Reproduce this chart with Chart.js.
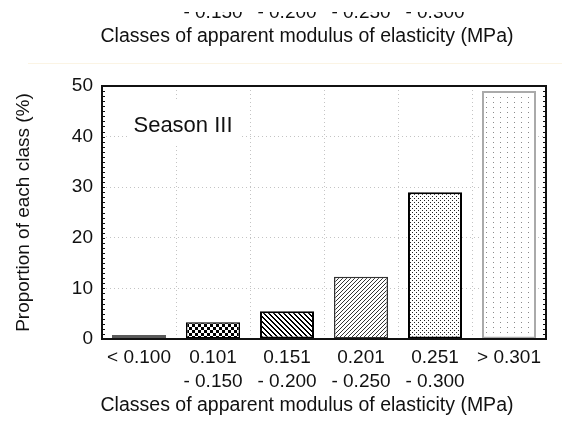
<!DOCTYPE html>
<html>
<head>
<meta charset="utf-8">
<script src="https://cdn.jsdelivr.net/npm/chart.js@4.4.0/dist/chart.umd.min.js"></script>
<style>
  html, body { margin: 0; padding: 0; background: #fff; }
  #wrap { width: 562px; height: 425px; position: relative; }
</style>
</head>
<body>
<div id="wrap"><canvas id="chart" width="562" height="425"></canvas></div>
<script>
// chart data
const classLabels = [
  ["< 0.100"],
  ["0.101", "- 0.150"],
  ["0.151", "- 0.200"],
  ["0.201", "- 0.250"],
  ["0.251", "- 0.300"],
  ["> 0.301"],
];
const proportions = [0.8, 3.3, 5.5, 12.3, 29.0, 49.0];
const yMin = 0;
const yMax = 50;
const yStep = 10;
const xTitle = "Classes of apparent modulus of elasticity (MPa)";
const yTitle = "Proportion of each class (%)";
const seasonLabel = "Season III";

const FONT = "Arial, 'Liberation Sans', sans-serif";

// pixel patterns for the bar fills
function makePattern(w, h, fn) {
  const c = document.createElement("canvas");
  c.width = w;
  c.height = h;
  const g = c.getContext("2d");
  g.fillStyle = "#fff";
  g.fillRect(0, 0, w, h);
  for (let y = 0; y < h; y++) {
    for (let x = 0; x < w; x++) {
      const col = fn(x, y);
      if (col) {
        g.fillStyle = col;
        g.fillRect(x, y, 1, 1);
      }
    }
  }
  return g.createPattern(c, "repeat");
}

const checker = makePattern(6, 6, (x, y) => ((Math.floor(x / 3) + Math.floor(y / 3)) % 2 === 0 ? "#000" : null));
const backSlash = makePattern(5, 5, (x, y) => ((((x - y) % 5) + 5) % 5 < 2 ? "#000" : null));
const fwdSlash = makePattern(4, 4, (x, y) => ((x + y) % 4 === 0 ? "#333" : null));
const denseDots = makePattern(4, 4, (x, y) => ((x === 0 && y === 0) || (x === 2 && y === 2) ? "#222" : null));
const sparseDots = makePattern(7, 5, (x, y) => (x === 3 && y === 2 ? "#8a8a8a" : null));

const barFills = ["#5a5a5a", checker, backSlash, fwdSlash, denseDots, sparseDots];
const barBorders = ["#5a5a5a", "#000", "#000", "#333", "#000", "#aaa"];
const barBorderWidths = [0, 1.5, 2, 1.5, 2, 2];

// extra drawing: frame, minor ticks, season label, bottom title and the clipped strip of the panel above
const extras = {
  id: "extras",
  afterDraw(chart) {
    const ctx = chart.ctx;
    const a = chart.chartArea;
    const xs = chart.scales.x;
    const ys = chart.scales.y;

    ctx.save();
    // frame around plot
    ctx.strokeStyle = "#111";
    ctx.lineWidth = 2;
    ctx.strokeRect(a.left, a.top, a.right - a.left, a.bottom - a.top);

    // small inward ticks on left and right edges
    ctx.lineWidth = 1;
    ctx.beginPath();
    for (let v = yMin; v <= yMax; v++) {
      const py = Math.round(ys.getPixelForValue(v)) + 0.5;
      ctx.moveTo(a.left, py);
      ctx.lineTo(a.left + 3, py);
      ctx.moveTo(a.right, py);
      ctx.lineTo(a.right - 3, py);
    }
    ctx.stroke();

    // season label on white box
    ctx.fillStyle = "#fff";
    ctx.fillRect(a.left + 25, a.top + 14, 113, 45);
    ctx.fillStyle = "#111";
    ctx.font = "22px " + FONT;
    ctx.textAlign = "center";
    ctx.textBaseline = "middle";
    ctx.fillText(seasonLabel, a.left + 81, a.top + 40);

    // x axis title
    ctx.font = "19.5px " + FONT;
    ctx.fillText(xTitle, 307, 406);

    // strip of previous panel at the very top
    ctx.beginPath();
    ctx.rect(0, 12, chart.width, 50);
    ctx.clip();
    ctx.font = "19px " + FONT;
    for (let i = 0; i < classLabels.length; i++) {
      if (classLabels[i].length > 1) {
        ctx.fillText(classLabels[i][1], xs.getPixelForValue(i), 13);
      }
    }
    ctx.font = "19.5px " + FONT;
    ctx.fillText(xTitle, 307, 37);
    ctx.restore();

    ctx.save();
    ctx.strokeStyle = "#fbf4e4";
    ctx.lineWidth = 1;
    ctx.beginPath();
    ctx.moveTo(28, 63.5);
    ctx.lineTo(chart.width, 63.5);
    ctx.stroke();
    ctx.restore();
  },
};

const ctx = document.getElementById("chart").getContext("2d");
new Chart(ctx, {
  type: "bar",
  data: {
    labels: classLabels,
    datasets: [
      {
        data: proportions,
        backgroundColor: barFills,
        borderColor: barBorders,
        borderWidth: barBorderWidths,
        borderSkipped: false,
        barPercentage: 0.73,
        categoryPercentage: 1.0,
      },
    ],
  },
  options: {
    responsive: false,
    animation: false,
    layout: { padding: { top: 86, right: 16, left: 0, bottom: 0 } },
    plugins: {
      legend: { display: false },
      tooltip: { enabled: false },
    },
    scales: {
      x: {
        grid: { display: true, color: "#c4c4c4", lineWidth: 1, drawTicks: false, offset: true },
        border: { display: false, dash: [1, 3] },
        ticks: {
          color: "#111",
          padding: 7,
          maxRotation: 0,
          autoSkip: false,
          font: { family: FONT, size: 19, lineHeight: 1.263 },
        },
        afterFit(scale) {
          scale.height = 86;
        },
      },
      y: {
        min: yMin,
        max: yMax,
        grid: { color: "#c4c4c4", lineWidth: 1, drawTicks: false },
        border: { display: false, dash: [1, 3] },
        ticks: {
          stepSize: yStep,
          color: "#111",
          padding: 9,
          font: { family: FONT, size: 19 },
        },
        title: {
          display: true,
          text: yTitle,
          color: "#111",
          font: { family: FONT, size: 19, lineHeight: 1.263 },
          padding: { top: 12, bottom: 0 },
        },
        afterFit(scale) {
          scale.width = 102;
        },
      },
    },
  },
  plugins: [extras],
});
</script>
</body>
</html>
